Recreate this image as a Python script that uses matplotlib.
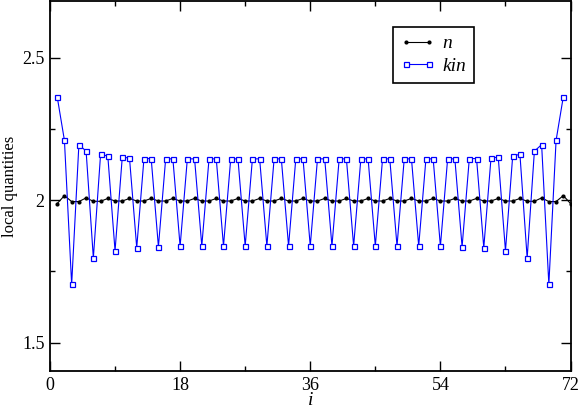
import matplotlib
matplotlib.use("Agg")
import matplotlib.pyplot as plt
from matplotlib.ticker import MultipleLocator

kin = [2.363, 2.210, 1.704, 2.195, 2.172, 1.797, 2.161, 2.155, 1.822,
       2.151, 2.148, 1.833, 2.146, 2.146, 1.836, 2.145, 2.145, 1.838,
       2.145, 2.145, 1.839, 2.145, 2.145, 1.839, 2.145, 2.145, 1.839,
       2.145, 2.145, 1.839, 2.145, 2.145, 1.839, 2.145, 2.145, 1.839,
       2.145, 2.145, 1.839, 2.145, 2.145, 1.839, 2.145, 2.145, 1.839,
       2.145, 2.145, 1.839, 2.145, 2.145, 1.839, 2.145, 2.145, 1.838,
       2.145, 2.145, 1.836, 2.146, 2.146, 1.833, 2.148, 2.151, 1.822,
       2.155, 2.161, 1.797, 2.172, 2.195, 1.704, 2.210, 2.363]
kin_x = list(range(1, len(kin) + 1))

n = [1.988, 2.016, 1.995, 1.995, 2.008, 1.996, 1.996, 2.006, 1.997,
     1.997, 2.006, 1.997, 1.997, 2.006, 1.997, 1.997, 2.006, 1.997,
     1.997, 2.006, 1.997, 1.997, 2.006, 1.997, 1.997, 2.006, 1.997,
     1.997, 2.006, 1.997, 1.997, 2.006, 1.997, 1.997, 2.006, 1.997,
     1.997, 2.006, 1.997, 1.997, 2.006, 1.997, 1.997, 2.006, 1.997,
     1.997, 2.006, 1.997, 1.997, 2.006, 1.997, 1.997, 2.006, 1.997,
     1.997, 2.006, 1.997, 1.997, 2.006, 1.997, 1.997, 2.006, 1.997,
     1.997, 2.006, 1.996, 1.996, 2.008, 1.995, 1.995, 2.016, 1.988]
n_x = list(range(1, len(n) + 1))

xticks = [0, 18, 36, 54, 72]
yticks = [1.5, 2.0, 2.5]
ytick_labels = ["1.5", "2", "2.5"]

serif = "Liberation Serif"
fig = plt.figure(figsize=(5.81, 4.12), dpi=100)
ax = fig.add_axes([0.086, 0.0995, 0.896, 0.8985])

ax.plot(n_x, n, color="black", lw=0.8, marker="o", ms=3.0, mfc="black",
        mec="black", mew=0, label="n", zorder=2)
ax.plot(kin_x, kin, color="#0000ff", lw=0.8, marker="s", ms=3.6, mfc="white",
        mec="#0000ff", mew=0.9, label="kin", zorder=3)

ax.set_xlim(0, 72)
ax.set_ylim(1.4, 2.7)
ax.set_xticks(xticks)
ax.set_xticklabels([str(t) for t in xticks], fontfamily=serif, fontsize=13)
ax.set_yticks(yticks)
ax.set_yticklabels(ytick_labels, fontfamily=serif, fontsize=13)
ax.xaxis.set_minor_locator(MultipleLocator(9))
ax.yaxis.set_minor_locator(MultipleLocator(0.25))
ax.tick_params(which="both", direction="in", top=True, right=True, width=1.0)
ax.tick_params(which="major", length=7, pad=4)
ax.tick_params(which="minor", length=3.5)
for s in ax.spines.values():
    s.set_linewidth(1.3)

ax.set_xlabel("i", fontfamily=serif, fontstyle="italic", fontsize=14, labelpad=-1)
ax.set_ylabel("local quantities", fontfamily=serif, fontsize=12, labelpad=3)

leg = ax.legend(loc="upper left", bbox_to_anchor=(0.658, 0.929), numpoints=2,
                prop={"family": serif, "style": "italic", "size": 14},
                fancybox=False, edgecolor="black", framealpha=1,
                handlelength=1.8, borderpad=0.4, labelspacing=0.25,
                handletextpad=0.35, borderaxespad=0)
leg.get_frame().set_linewidth(1.2)

fig.savefig("out.png", dpi=100)
